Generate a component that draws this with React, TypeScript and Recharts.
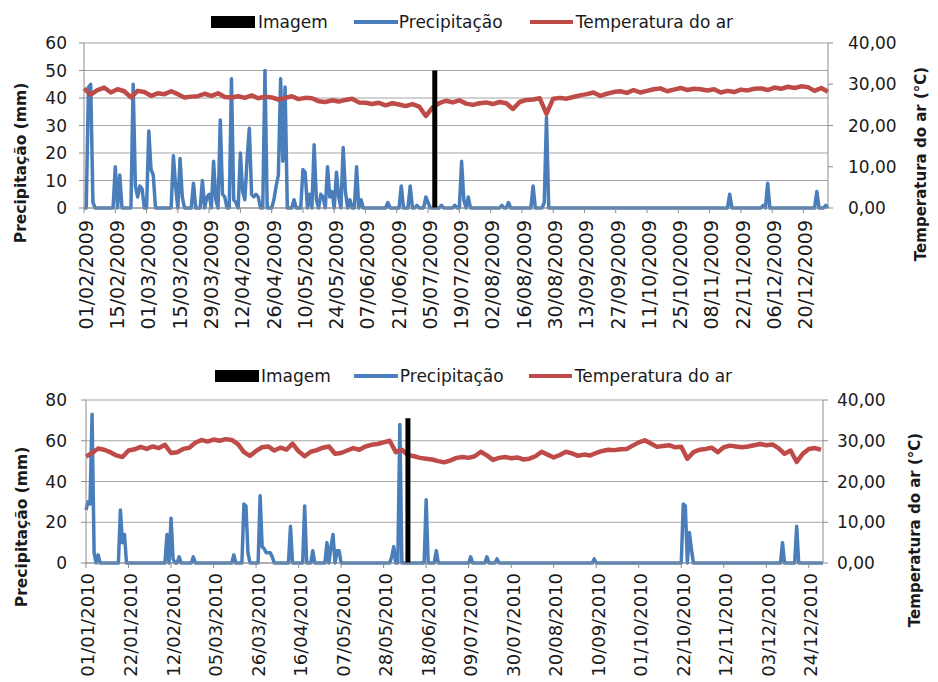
import React from "react";
import { LineChart, Line, XAxis, YAxis, CartesianGrid } from "recharts";

const FONT = '"DejaVu Sans", sans-serif';
const BLUE = "#4a7ebb";
const RED = "#be4b48";
const GRID = "#a6a6a6";
const AXIS = "#8c8c8c";
const TEXT = "#1a1a1a";

// ---- 2009 (top panel) ----
const start2009 = "01/02/2009";
const end2009 = "31/12/2009";
const ticks2009 = [
  "01/02/2009", "15/02/2009", "01/03/2009", "15/03/2009", "29/03/2009", "12/04/2009",
  "26/04/2009", "10/05/2009", "24/05/2009", "07/06/2009", "21/06/2009", "05/07/2009",
  "19/07/2009", "02/08/2009", "16/08/2009", "30/08/2009", "13/09/2009", "27/09/2009",
  "11/10/2009", "25/10/2009", "08/11/2009", "22/11/2009", "06/12/2009", "20/12/2009",
];
// rainy days: [day since start, mm]; every other day reads 0
const rain2009: [number, number][] = [
  [2, 44], [3, 45], [4, 2], [14, 15], [16, 12], [22, 45], [23, 8], [24, 4], [25, 8], [26, 7],
  [29, 28], [30, 14], [31, 12], [40, 19], [41, 8], [43, 18], [44, 4], [49, 9], [53, 10], [55, 4],
  [56, 5], [58, 17], [59, 3], [61, 32], [62, 5], [63, 4], [66, 47], [67, 3], [68, 2], [70, 20],
  [71, 6], [72, 3], [73, 18], [74, 29], [75, 5], [76, 4], [77, 5], [78, 4], [81, 50], [85, 3],
  [86, 8], [87, 12], [88, 47], [89, 17], [90, 44], [94, 3], [98, 14], [99, 13], [101, 5], [103, 23],
  [104, 3], [106, 5], [107, 4], [109, 15], [110, 4], [111, 6], [113, 13], [114, 4], [116, 22], [117, 6],
  [119, 3], [122, 15], [124, 3], [136, 2], [142, 8], [146, 8], [149, 1], [153, 4], [154, 2], [160, 1],
  [166, 1], [169, 17], [170, 3], [172, 4], [187, 1], [190, 2], [201, 8], [206, 2], [207, 33], [289, 5],
  [304, 1], [306, 9], [328, 6], [332, 1],
];
// air temperature, one reading every 3 days from 01/02/2009
const temp2009 = [
  29.0, 27.5, 28.6, 29.2, 28.0, 28.8, 28.3, 26.8, 28.4, 28.1,
  27.2, 27.8, 27.6, 28.3, 27.6, 26.8, 27.0, 27.1, 27.7, 27.2,
  27.8, 26.9, 26.8, 27.1, 26.7, 27.3, 26.6, 27.0, 26.8, 26.3,
  26.7, 27.1, 26.4, 26.7, 26.6, 25.9, 25.7, 26.1, 25.8, 26.2,
  26.5, 25.6, 25.5, 25.2, 25.5, 24.9, 25.4, 25.1, 24.7, 25.2,
  24.6, 22.3, 24.4, 25.4, 26.0, 25.6, 26.1, 25.3, 25.0, 25.4,
  25.6, 25.2, 25.7, 25.4, 24.0, 25.7, 26.2, 26.3, 26.6, 22.8,
  26.5, 26.7, 26.5, 26.9, 27.3, 27.6, 28.0, 27.2, 27.7, 28.1,
  28.3, 27.9, 28.6, 28.0, 28.4, 28.8, 29.0, 28.3, 28.7, 29.1,
  28.6, 28.9, 28.8, 28.5, 28.8, 28.0, 28.4, 28.1, 28.7, 28.5,
  28.9, 29.0, 28.6, 29.2, 28.9, 29.4, 29.1, 29.5, 29.3, 28.4,
  29.1, 28.2,
];
const imageDate2009 = "08/07/2009";
const imageMm2009 = 50;
const rainTicks2009 = [0, 10, 20, 30, 40, 50, 60];

// ---- 2010 (bottom panel) ----
const start2010 = "01/01/2010";
const end2010 = "31/12/2010";
const ticks2010 = [
  "01/01/2010", "22/01/2010", "12/02/2010", "05/03/2010", "26/03/2010", "16/04/2010",
  "07/05/2010", "28/05/2010", "18/06/2010", "09/07/2010", "30/07/2010", "20/08/2010",
  "10/09/2010", "01/10/2010", "22/10/2010", "12/11/2010", "03/12/2010", "24/12/2010",
];
const rain2010: [number, number][] = [
  [0, 26], [1, 30], [2, 29], [3, 73], [4, 5], [6, 4], [17, 26], [18, 10], [19, 14], [40, 14],
  [42, 22], [43, 2], [46, 3], [53, 3], [73, 4], [78, 29], [79, 28], [80, 5], [86, 33], [87, 8],
  [88, 7], [89, 5], [90, 5], [91, 5], [92, 3], [101, 18], [108, 28], [112, 6], [119, 10], [121, 8],
  [122, 14], [124, 6], [125, 6], [151, 3], [152, 8], [155, 68], [168, 31], [173, 6], [190, 3], [198, 3],
  [203, 2], [251, 2], [295, 29], [296, 28], [298, 15], [299, 7], [344, 10], [351, 18],
];
const temp2010 = [
  26.1, 27.0, 28.1, 27.8, 27.2, 26.4, 26.0, 27.6, 27.9, 28.5,
  28.0, 28.6, 28.2, 29.0, 27.0, 27.2, 28.0, 28.3, 29.5, 30.2,
  29.8, 30.3, 30.0, 30.4, 30.2, 29.2, 27.2, 26.3, 27.5, 28.4,
  28.6, 27.6, 28.3, 27.8, 29.3, 27.4, 26.2, 27.3, 27.7, 28.3,
  28.6, 26.8, 27.0, 27.6, 28.2, 27.8, 28.6, 29.0, 29.2, 29.6,
  30.0, 27.2, 27.8, 26.5, 26.2, 25.8, 25.6, 25.4, 25.0, 24.7,
  25.2, 25.8, 26.0, 25.8, 26.2, 27.3, 26.4, 25.3, 25.8, 26.0,
  25.7, 25.9, 25.4, 25.6, 26.2, 27.3, 26.6, 25.9, 26.5, 27.3,
  26.9, 26.3, 26.6, 26.4, 27.0, 27.5, 27.8, 27.7, 27.9, 28.0,
  28.8, 29.6, 30.1, 29.3, 28.5, 28.7, 28.9, 28.4, 28.5, 25.6,
  27.2, 27.8, 28.0, 28.3, 27.2, 28.4, 28.8, 28.6, 28.4, 28.6,
  28.9, 29.2, 28.9, 29.1, 28.2, 26.8, 27.6, 24.8, 26.8, 28.0,
  28.2, 27.8,
];
const imageDate2010 = "09/06/2010";
const imageMm2010 = 71;
const rainTicks2010 = [0, 20, 40, 60, 80];

const tempTicks = [0, 10, 20, 30, 40];
const TEMP_STEP = 3;

const toTime = (s: string) => {
  const [dd, mm, yy] = s.split("/").map(Number);
  return Date.UTC(yy, mm - 1, dd);
};
const dayOf = (s: string, start: string) => Math.round((toTime(s) - toTime(start)) / 86400000);

const DateTick = (props: any) => {
  const { x, y, payload, labels, days, size } = props;
  const label = labels[days.indexOf(payload.value)] ?? "";
  return (
    <g transform={`translate(${x + 2},${y})`}>
      <text x={0} y={0} dy="0.36em" textAnchor="end" transform="rotate(-90)" fontSize={size} fill={TEXT}>
        {label}
      </text>
    </g>
  );
};

interface PanelProps {
  height: number;
  plotTop: number;
  plotBottom: number;
  plotLeft: number;
  plotRight: number;
  start: string;
  end: string;
  tickLabels: string[];
  rain: [number, number][];
  temps: number[];
  imageDate: string;
  imageMm: number;
  rainTicks: number[];
  leftMargin: number;
  rightMargin: number;
  xMargin: number;
  xFont: number;
}

const Panel: React.FC<PanelProps> = (p) => {
  const lastDay = dayOf(p.end, p.start);
  const precip = Array.from({ length: lastDay + 1 }, (_, d) => ({ d, mm: 0 }));
  p.rain.forEach(([d, v]) => {
    precip[d].mm = v;
  });
  const temp = p.temps.map((t, i) => ({ d: i * TEMP_STEP, t }));
  const imgDay = dayOf(p.imageDate, p.start);
  const image = [
    { d: imgDay, mm: 0 },
    { d: imgDay, mm: p.imageMm },
  ];
  const xDays = p.tickLabels.map((l) => dayOf(l, p.start));
  const rainMax = p.rainTicks[p.rainTicks.length - 1];

  return (
    <LineChart
      width={938}
      height={p.height}
      margin={{ top: p.plotTop, right: 0, bottom: 0, left: 0 }}
    >
      <CartesianGrid yAxisId="left" vertical={false} stroke={GRID} strokeWidth={1.2} />
      <XAxis
        dataKey="d"
        type="number"
        domain={[0, lastDay]}
        ticks={xDays}
        interval={0}
        height={p.height - p.plotBottom}
        stroke={AXIS}
        tickSize={5}
        tickMargin={p.xMargin}
        tick={(props: any) => <DateTick {...props} labels={p.tickLabels} days={xDays} size={p.xFont} />}
      />
      <YAxis
        yAxisId="left"
        width={p.plotLeft}
        domain={[0, rainMax]}
        ticks={p.rainTicks}
        interval={0}
        stroke={AXIS}
        tickSize={5}
        tickMargin={p.leftMargin}
        tick={{ fontSize: 17, fill: TEXT }}
      />
      <YAxis
        yAxisId="right"
        orientation="right"
        width={938 - p.plotRight}
        domain={[0, 40]}
        ticks={tempTicks}
        interval={0}
        stroke={AXIS}
        tickSize={5}
        tickMargin={p.rightMargin}
        tick={{ fontSize: 17, fill: TEXT }}
        tickFormatter={(v: number) => v.toFixed(2).replace(".", ",")}
      />
      <Line
        yAxisId="left"
        data={precip}
        dataKey="mm"
        type="linear"
        stroke={BLUE}
        strokeWidth={3.5}
        strokeLinejoin="round"
        dot={false}
        activeDot={false}
        isAnimationActive={false}
      />
      <Line
        yAxisId="right"
        data={temp}
        dataKey="t"
        type="linear"
        stroke={RED}
        strokeWidth={4.5}
        strokeLinejoin="round"
        dot={false}
        activeDot={false}
        isAnimationActive={false}
      />
      <Line
        yAxisId="left"
        data={image}
        dataKey="mm"
        type="linear"
        stroke="#000000"
        strokeWidth={5}
        strokeLinecap="butt"
        dot={false}
        activeDot={false}
        isAnimationActive={false}
      />
    </LineChart>
  );
};

const LegendRow: React.FC<{ left: number; top: number; gaps: number[] }> = ({ left, top, gaps }) => (
  <div
    style={{
      position: "absolute",
      left,
      top,
      height: 24,
      display: "flex",
      alignItems: "center",
      fontSize: 17,
      color: TEXT,
      whiteSpace: "nowrap",
    }}
  >
    <div style={{ width: 44, height: 12, background: "#000" }} />
    <span style={{ marginLeft: gaps[0] }}>Imagem</span>
    <div style={{ width: 44, height: 4, background: BLUE, marginLeft: gaps[1] }} />
    <span style={{ marginLeft: gaps[2] }}>Precipitação</span>
    <div style={{ width: 43, height: 4, background: RED, marginLeft: gaps[3] }} />
    <span style={{ marginLeft: gaps[4] }}>Temperatura do ar</span>
  </div>
);

const AxisTitle: React.FC<{ cx: number; cy: number; size: number; text: string }> = ({ cx, cy, size, text }) => (
  <div
    style={{
      position: "absolute",
      left: cx,
      top: cy,
      transform: "translate(-50%, -50%) rotate(-90deg)",
      fontSize: size,
      fontWeight: "bold",
      color: TEXT,
      whiteSpace: "nowrap",
    }}
  >
    {text}
  </div>
);

export default function App() {
  return (
    <div
      style={{
        position: "absolute",
        left: 0,
        top: 0,
        width: 938,
        height: 682,
        overflow: "hidden",
        background: "#fff",
        fontFamily: FONT,
      }}
    >
      <div style={{ position: "absolute", left: 0, top: 0 }}>
        <Panel
          height={340}
          plotTop={43}
          plotBottom={208}
          plotLeft={84}
          plotRight={828}
          start={start2009}
          end={end2009}
          tickLabels={ticks2009}
          rain={rain2009}
          temps={temp2009}
          imageDate={imageDate2009}
          imageMm={imageMm2009}
          rainTicks={rainTicks2009}
          leftMargin={12}
          rightMargin={15}
          xMargin={7}
          xFont={19}
        />
      </div>
      <div style={{ position: "absolute", left: 0, top: 340 }}>
        <Panel
          height={342}
          plotTop={60}
          plotBottom={223}
          plotLeft={86}
          plotRight={823}
          start={start2010}
          end={end2010}
          tickLabels={ticks2010}
          rain={rain2010}
          temps={temp2010}
          imageDate={imageDate2010}
          imageMm={imageMm2010}
          rainTicks={rainTicks2010}
          leftMargin={14}
          rightMargin={9}
          xMargin={5}
          xFont={18}
        />
      </div>
      <LegendRow left={211} top={10} gaps={[3, 26, 1, 27, 3]} />
      <LegendRow left={215} top={364} gaps={[2, 23, 2, 25, 3]} />
      <AxisTitle cx={21} cy={163} size={15.5} text="Precipitação (mm)" />
      <AxisTitle cx={921} cy={164} size={15} text="Temperatura do ar (°C)" />
      <AxisTitle cx={22} cy={527} size={15.5} text="Precipitação (mm)" />
      <AxisTitle cx={915} cy={530} size={15} text="Temperatura do ar (°C)" />
    </div>
  );
}
